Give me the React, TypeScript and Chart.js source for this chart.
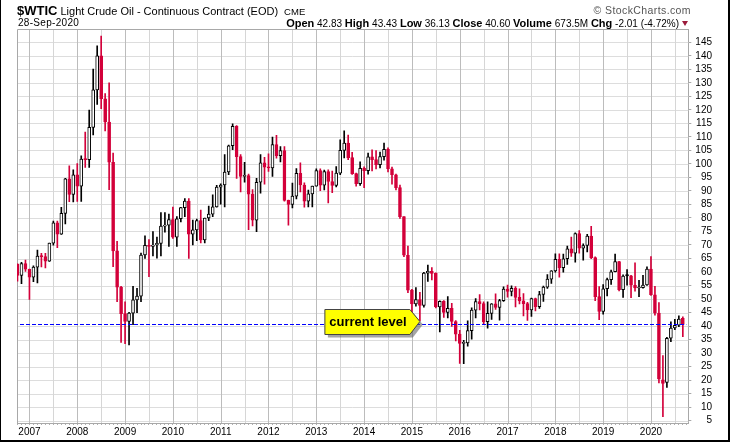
import { useEffect, useRef } from 'react';
import { Chart, registerables } from 'chart.js';

Chart.register(...registerables);

// ---- data: monthly candles, Oct 2006 .. Sep 2020 ----
const FIRST_YEAR = 2006;
const FIRST_MONTH = 10;

const opens = [
  62.9, 58.7, 63.1, // 2006
  61.0, 58.1, 61.8, 65.9, 65.7, 64.0, 70.7, 78.2, 74.0, 81.7, 94.5, 88.7, // 2007
  96.0, 91.8, 101.8, 101.6, 113.5, 127.4, 140.0, 124.1, 115.5, 100.6, 67.8, 54.4, // 2008
  44.6, 41.7, 44.8, 49.7, 51.1, 66.3, 69.9, 69.5, 70.0, 70.6, 77.0, 77.3, // 2009
  79.4, 72.9, 79.7, 83.8, 86.2, 74.0, 75.6, 79.0, 71.9, 80.0, 81.4, 84.1, // 2010
  91.4, 92.2, 97.0, 106.7, 113.9, 102.7, 95.4, 95.7, 88.8, 79.2, 93.2, 100.4, // 2011
  98.8, 98.5, 107.1, 103.0, 104.9, 86.5, 85.0, 88.1, 96.5, 92.2, 86.2, 88.9, // 2012
  91.8, 97.5, 92.1, 97.2, 93.5, 92.0, 96.6, 105.0, 107.7, 102.3, 96.4, 92.7, // 2013
  98.4, 97.5, 102.6, 101.6, 99.7, 102.7, 105.4, 98.2, 96.0, 91.2, 80.5, 66.2, // 2014
  53.3, 48.2, 49.8, 47.6, 59.6, 60.3, 59.5, 47.1, 49.2, 45.1, 46.6, 41.7, // 2015
  37.0, 33.6, 33.8, 38.3, 45.9, 49.1, 48.3, 41.6, 44.7, 48.2, 46.9, 49.4, // 2016
  53.7, 52.8, 54.0, 50.6, 49.3, 48.3, 46.0, 50.2, 47.2, 51.7, 54.4, 57.4, // 2017
  60.4, 64.7, 61.6, 64.9, 68.6, 67.0, 74.2, 68.8, 69.8, 73.3, 65.3, 50.9, // 2018
  45.4, 53.8, 57.2, 60.1, 63.9, 53.5, 59.1, 58.6, 55.1, 54.1, 54.2, 55.2, // 2019
  61.1, 51.6, 44.8, 20.1, 19.2, 35.5, 39.3, 40.3, 42.83, // 2020
];
const highs = [
  63.0, 63.6, 64.4,
  61.1, 62.3, 68.1, 66.9, 66.9, 70.7, 78.8, 78.8, 83.9, 94.7, 99.3, 97.8,
  100.1, 103.0, 111.8, 119.9, 135.1, 143.7, 147.3, 126.0, 130.0, 104.0, 71.4, 54.7,
  49.0, 45.1, 54.7, 54.0, 67.0, 73.4, 72.0, 75.0, 72.9, 82.0, 82.0, 81.4,
  84.0, 80.5, 83.9, 87.2, 87.2, 79.2, 79.6, 82.9, 80.0, 84.4, 88.6, 92.1,
  92.6, 103.4, 107.0, 114.8, 114.2, 103.4, 100.6, 96.2, 90.5, 94.7, 103.4, 102.4,
  103.7, 109.9, 110.6, 106.4, 106.4, 86.6, 92.9, 98.3, 100.4, 93.0, 90.3, 91.8,
  98.2, 98.2, 97.7, 97.8, 97.3, 99.0, 108.9, 112.2, 110.7, 104.3, 96.6, 100.8,
  98.9, 104.0, 105.2, 104.9, 104.4, 107.7, 105.9, 98.8, 96.2, 92.2, 80.5, 69.6,
  53.6, 54.2, 52.5, 59.9, 62.6, 61.6, 59.7, 49.3, 49.4, 50.9, 48.4, 42.0,
  38.4, 34.7, 41.9, 46.8, 50.2, 51.7, 49.0, 49.0, 48.3, 51.9, 49.9, 54.5,
  55.2, 54.9, 54.6, 53.8, 52.0, 48.8, 50.4, 50.4, 52.9, 54.8, 59.1, 60.5,
  66.7, 66.7, 66.6, 69.6, 72.9, 74.5, 75.3, 70.4, 73.9, 76.9, 65.6, 54.6,
  55.4, 57.8, 60.7, 66.6, 64.0, 59.0, 60.9, 58.8, 63.4, 56.9, 58.8, 61.9,
  65.7, 54.7, 48.7, 29.1, 35.8, 41.6, 42.5, 43.8, 43.43,
];
const lows = [
  56.6, 55.7, 60.2,
  49.9, 56.4, 56.0, 61.9, 61.5, 63.9, 69.9, 69.0, 73.9, 77.8, 86.0, 85.9,
  86.1, 86.1, 98.7, 98.7, 110.7, 122.0, 120.4, 112.2, 90.5, 62.0, 49.0, 34.0,
  33.5, 33.0, 40.5, 45.0, 49.0, 65.0, 58.3, 66.0, 65.1, 66.0, 74.7, 69.5,
  72.4, 69.5, 78.5, 80.5, 65.0, 70.0, 71.6, 70.8, 70.8, 79.0, 80.5, 84.0,
  85.1, 84.1, 96.0, 105.3, 94.6, 89.6, 93.2, 75.7, 77.1, 74.9, 89.2, 92.5,
  97.2, 95.4, 102.1, 100.7, 86.2, 77.3, 83.7, 87.0, 89.6, 84.0, 84.1, 84.1,
  91.8, 90.1, 90.4, 85.6, 89.4, 91.5, 96.0, 102.2, 101.6, 96.1, 91.8, 92.0,
  91.2, 96.2, 97.4, 98.1, 98.5, 101.4, 97.0, 92.5, 90.4, 79.8, 65.7, 52.4,
  44.2, 47.4, 42.0, 47.0, 56.5, 57.1, 46.7, 37.8, 43.2, 43.0, 39.9, 34.5,
  26.2, 26.1, 32.6, 35.2, 43.0, 46.0, 40.6, 39.2, 42.5, 46.2, 42.2, 49.1,
  50.7, 51.2, 47.1, 48.2, 43.8, 42.1, 43.6, 45.6, 46.5, 49.1, 53.9, 55.8,
  59.9, 58.1, 59.9, 62.8, 65.8, 63.6, 67.0, 64.4, 67.4, 64.9, 49.4, 42.4,
  44.4, 51.2, 55.4, 60.0, 53.0, 50.6, 55.1, 50.5, 52.9, 50.9, 54.0, 55.0,
  51.3, 44.0, 19.0, 6.5, 17.3, 34.2, 38.7, 39.8, 36.13,
];
const closes = [
  58.7, 63.1, 61.05,
  58.1, 61.8, 65.9, 65.7, 64.0, 70.7, 78.2, 74.0, 81.7, 94.5, 88.7, 96.0,
  91.8, 101.8, 101.6, 113.5, 127.4, 140.0, 124.1, 115.5, 100.6, 67.8, 54.4, 44.6,
  41.7, 44.8, 49.7, 51.1, 66.3, 69.9, 69.5, 70.0, 70.6, 77.0, 77.3, 79.4,
  72.9, 79.7, 83.8, 86.2, 74.0, 75.6, 79.0, 71.9, 80.0, 81.4, 84.1, 91.4,
  92.2, 97.0, 106.7, 113.9, 102.7, 95.4, 95.7, 88.8, 79.2, 93.2, 100.4, 98.8,
  98.5, 107.1, 103.0, 104.9, 86.5, 85.0, 88.1, 96.5, 92.2, 86.2, 88.9, 91.8,
  97.5, 92.1, 97.2, 93.5, 92.0, 96.6, 105.0, 107.7, 102.3, 96.4, 92.7, 98.4,
  97.5, 102.6, 101.6, 99.7, 102.7, 105.4, 98.2, 96.0, 91.2, 80.5, 66.2, 53.3,
  48.2, 49.8, 47.6, 59.6, 60.3, 59.5, 47.1, 49.2, 45.1, 46.6, 41.7, 37.0,
  33.6, 33.8, 38.3, 45.9, 49.1, 48.3, 41.6, 44.7, 48.2, 46.9, 49.4, 53.7,
  52.8, 54.0, 50.6, 49.3, 48.3, 46.0, 50.2, 47.2, 51.7, 54.4, 57.4, 60.4,
  64.7, 61.6, 64.9, 68.6, 67.0, 74.2, 68.8, 69.8, 73.3, 65.3, 50.9, 45.4,
  53.8, 57.2, 60.1, 63.9, 53.5, 58.5, 58.6, 55.1, 54.1, 54.2, 55.2, 61.1,
  51.6, 44.8, 20.5, 18.8, 35.5, 39.3, 40.3, 42.6, 40.60,
];

const yTickValues = [5, 10, 15, 20, 25, 30, 35, 40, 45, 50, 55, 60, 65, 70, 75, 80, 85, 90, 95, 100, 105, 110, 115, 120, 125, 130, 135, 140, 145];
const yearLabels = ['2007', '2008', '2009', '2010', '2011', '2012', '2013', '2014', '2015', '2016', '2017', '2018', '2019', '2020'];
const calloutMonth = '2015-03';
const calloutText = 'current level';

// month labels / index (months since Jan 2007)
const months = opens.map((_, i) => {
  const t = FIRST_MONTH - 1 + i;
  return `${FIRST_YEAR + Math.floor(t / 12)}-${String((t % 12) + 1).padStart(2, '0')}`;
});
const offsetIdx = (FIRST_YEAR - 2007) * 12 + FIRST_MONTH - 1;
const xOf = (i: number) => i + offsetIdx;

const RED = '#d3003a';
const BLACK = '#000000';
const FONT = "'Liberation Sans', Arial, sans-serif";
const GRID_LIGHT = '#dddddd';
const GRID_HALF = '#d6d6d6';
const GRID_YEAR = '#bcbcbc';
const FRAME = '#a8a8a8';

const colors = closes.map((c, i) => (c < (i > 0 ? closes[i - 1] : opens[i]) ? RED : BLACK));
const fills = closes.map((c, i) => (c < opens[i] ? colors[i] : '#ffffff'));

const overlay = {
  id: 'overlay',
  beforeDatasetsDraw(chart: any) {
    const { ctx, chartArea: a, scales } = chart;
    ctx.save();
    ctx.lineWidth = 1;
    ctx.setLineDash([]);
    // horizontal grid
    ctx.strokeStyle = GRID_LIGHT;
    ctx.beginPath();
    yTickValues.forEach((v) => {
      const y = Math.round(scales.y.getPixelForValue(v)) + 0.5;
      ctx.moveTo(a.left, y);
      ctx.lineTo(a.right, y);
    });
    ctx.stroke();
    // vertical grid: half-years
    ctx.strokeStyle = GRID_HALF;
    ctx.beginPath();
    for (let m = -3; m <= 165; m++) {
      if (m % 6 !== 0 || m % 12 === 0) continue;
      const x = Math.round(scales.x.getPixelForValue(m)) + 0.5;
      ctx.moveTo(x, a.top);
      ctx.lineTo(x, a.bottom);
    }
    ctx.stroke();
    // years
    ctx.strokeStyle = GRID_YEAR;
    ctx.beginPath();
    for (let m = 0; m <= 165; m += 12) {
      const x = Math.round(scales.x.getPixelForValue(m)) + 0.5;
      ctx.moveTo(x, a.top);
      ctx.lineTo(x, a.bottom);
    }
    ctx.stroke();
    // frame (left + top)
    ctx.strokeStyle = FRAME;
    ctx.beginPath();
    const l = Math.round(a.left) + 0.5;
    const t = Math.round(a.top) + 0.5;
    ctx.moveTo(l, a.bottom);
    ctx.lineTo(l, t);
    ctx.lineTo(a.right, t);
    ctx.stroke();
    ctx.restore();
  },
  afterDatasetsDraw(chart: any) {
    const { ctx, chartArea: a, scales } = chart;
    const last = closes[closes.length - 1];
    const y = Math.round(scales.y.getPixelForValue(last)) + 0.5;
    ctx.save();
    ctx.strokeStyle = '#0000ff';
    ctx.lineWidth = 1;
    ctx.setLineDash([4, 2]);
    ctx.beginPath();
    ctx.moveTo(a.left + 3, y);
    ctx.lineTo(a.right - 2, y);
    ctx.stroke();
    ctx.setLineDash([]);

    // callout
    const ci = months.indexOf(calloutMonth);
    const tx = scales.x.getPixelForValue(xOf(ci));
    const ty = y - 3;
    const pts = [
      [tx - 95, ty - 12],
      [tx - 10, ty - 12],
      [tx, ty],
      [tx - 10, ty + 13],
      [tx - 95, ty + 13],
    ];
    const path = (dx: number, dy: number) => {
      ctx.beginPath();
      pts.forEach(([px, py], k) => (k ? ctx.lineTo(px + dx, py + dy) : ctx.moveTo(px + dx, py + dy)));
      ctx.closePath();
    };
    ctx.fillStyle = 'rgba(90,90,90,0.55)';
    path(3, 3);
    ctx.fill();
    ctx.fillStyle = '#ffff00';
    ctx.strokeStyle = '#444444';
    path(0, 0);
    ctx.fill();
    ctx.stroke();
    ctx.fillStyle = '#000';
    ctx.font = `bold 13px ${FONT}`;
    ctx.textAlign = 'center';
    ctx.textBaseline = 'middle';
    ctx.fillText(calloutText, tx - 52, ty + 1);
    ctx.restore();
  },
};

export default function App() {
  const ref = useRef<HTMLCanvasElement>(null);

  useEffect(() => {
    const canvas = ref.current;
    if (!canvas) return;
    Chart.defaults.font.family = FONT;
    const chart = new Chart(canvas, {
      type: 'bar',
      data: {
        datasets: [
          {
            label: 'body',
            data: months.map((_, i) => ({ x: xOf(i), y: [opens[i], closes[i]] })) as any,
            backgroundColor: fills,
            borderColor: colors,
            borderWidth: 1,
            borderSkipped: false,
            barThickness: 3,
            minBarLength: 1,
            grouped: false,
            order: 0,
            clip: 0,
          } as any,
          {
            label: 'wick',
            data: months.map((_, i) => ({ x: xOf(i), y: [lows[i], highs[i]] })) as any,
            backgroundColor: colors,
            borderWidth: 0,
            barThickness: 1,
            grouped: false,
            order: 1,
            clip: 0,
          } as any,
        ],
      },
      options: {
        animation: false,
        responsive: false,
        devicePixelRatio: 1,
        events: [],
        layout: { padding: { left: 17, top: 29, right: 18, bottom: 3 } },
        plugins: { legend: { display: false }, tooltip: { enabled: false }, title: { display: false } },
        scales: {
          x: {
            type: 'linear',
            min: -3.125,
            max: 165.375,
            offset: false,
            afterBuildTicks: (s: any) => {
              const t = [];
              for (let m = -3; m <= 165; m++) t.push({ value: m });
              s.ticks = t;
            },
            ticks: {
              autoSkip: false,
              maxRotation: 0,
              padding: 1,
              color: '#000',
              font: { size: 10, family: FONT },
              callback: (v: any) => (Number(v) % 12 === 0 ? yearLabels[Number(v) / 12] ?? '' : ''),
            },
            grid: {
              offset: false,
              drawOnChartArea: false,
              tickColor: '#b0b0b0',
              tickLength: 2,
            },
            border: { color: FRAME },
          } as any,
          y: {
            type: 'linear',
            position: 'right',
            min: 4.15,
            max: 149.9,
            afterBuildTicks: (s: any) => {
              s.ticks = yTickValues.map((v) => ({ value: v }));
            },
            ticks: {
              autoSkip: false,
              color: '#000',
              padding: 2,
              crossAlign: 'far',
              font: { size: 10, family: FONT },
            },
            grid: { drawOnChartArea: false, tickColor: FRAME, tickLength: 3 },
            border: { color: FRAME },
          } as any,
        },
      },
      plugins: [overlay],
    });
    return () => chart.destroy();
  }, []);

  const hdr: any = { position: 'absolute', whiteSpace: 'nowrap', fontFamily: FONT, color: '#000' };
  return (
    <div style={{ position: 'absolute', left: 0, top: 0, width: 730, height: 442, background: '#fff', overflow: 'hidden' }}>
      <canvas ref={ref} width={730} height={442} style={{ position: 'absolute', left: 0, top: 0, width: 730, height: 442 }} />
      <div style={{ ...hdr, left: 17, top: 3, lineHeight: '13px' }}>
        <span style={{ fontWeight: 'bold', fontSize: 13 }}>$WTIC</span>
        <span style={{ fontSize: 11, marginLeft: 3 }}>Light Crude Oil - Continuous Contract (EOD)</span>
        <span style={{ fontSize: 9.5, marginLeft: 6 }}>CME</span>
      </div>
      <div style={{ ...hdr, left: 18, top: 17, fontSize: 10, lineHeight: '12px', letterSpacing: 0.3 }}>28-Sep-2020</div>
      <div style={{ ...hdr, right: 39, top: 4, fontSize: 10.5, lineHeight: '12px', color: '#555', letterSpacing: 0.4 }}>
        © StockCharts.com
      </div>
      <div style={{ ...hdr, right: 51, top: 17, fontSize: 10, lineHeight: '12px' }}>
        <b style={{ fontSize: 11 }}>Open</b> 42.83 <b style={{ fontSize: 11 }}>High</b> 43.43 <b style={{ fontSize: 11 }}>Low</b> 36.13{' '}
        <b style={{ fontSize: 11 }}>Close</b> 40.60 <b style={{ fontSize: 11 }}>Volume</b> 673.5M <b style={{ fontSize: 11 }}>Chg</b> -2.01 (-4.72%)
      </div>
      <div
        style={{
          position: 'absolute',
          left: 682,
          top: 21,
          width: 0,
          height: 0,
          borderLeft: '3.5px solid transparent',
          borderRight: '3.5px solid transparent',
          borderTop: '5px solid #9b1b3b',
        }}
      />
      <div
        style={{
          position: 'absolute',
          left: 0,
          top: 0,
          width: 730,
          height: 442,
          boxSizing: 'border-box',
          borderLeft: '1px solid #000',
          borderRight: '2px solid #000',
          borderBottom: '2px solid #000',
          pointerEvents: 'none',
        }}
      />
    </div>
  );
}
